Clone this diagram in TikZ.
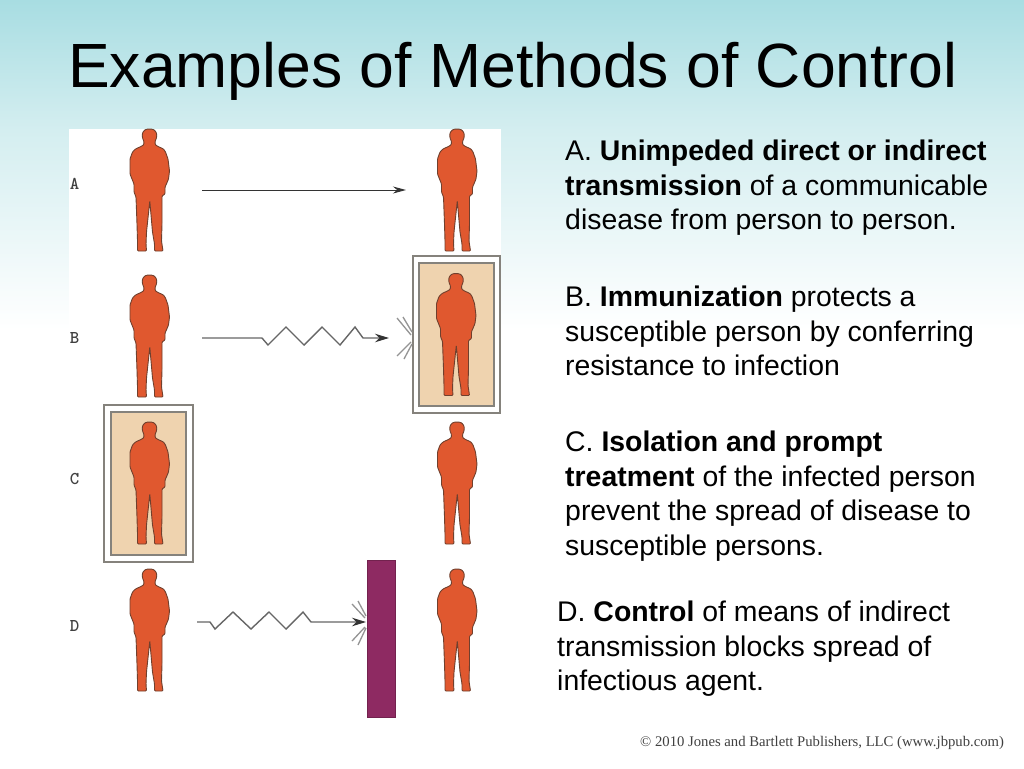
\documentclass[tikz,border=0pt]{standalone}
\usepackage{fontspec}
\setmainfont{Liberation Sans}
\newfontfamily\creditfont{Liberation Serif}
\usetikzlibrary{arrows.meta}
\definecolor{bgtop}{HTML}{A8DDE2}
\definecolor{bgmid}{HTML}{D4EEF0}
\definecolor{manfill}{HTML}{E0582F}
\definecolor{manline}{HTML}{70402E}
\definecolor{wheatfill}{HTML}{EFD3AF}
\definecolor{boxline}{HTML}{85827C}
\definecolor{wallfill}{HTML}{8E2A62}
\definecolor{zigline}{HTML}{666666}
\tikzset{
  man/.pic={
    \draw[fill=manfill,draw=manline,line width=0.9pt,rounded corners=0.9pt]
      (0,0) -- (3,0.2) -- (5.6,1.6) -- (7.3,5) -- (7,9) -- (5.5,12.5) -- (5.7,15.5) -- (7.5,17) -- (14,20) -- (16,23)
      -- (18.5,30) -- (20,42) -- (19,50) -- (16.5,56) -- (15.5,58) -- (15.5,65) -- (12.5,67)
      -- (12.5,95) -- (12,112) -- (13.5,122) -- (5,122) -- (5,115) -- (3,103) -- (0.3,72)
      -- (-3,103) -- (-3.5,115) -- (-3,122) -- (-12,122) -- (-12,112) -- (-12.5,95) -- (-13.5,68)
      -- (-15.5,63) -- (-15.5,55) -- (-19.5,45) -- (-19.5,30) -- (-17,23) -- (-14,20) -- (-7.5,17)
      -- (-5.7,15.5) -- (-5.5,12.5) -- (-7,9) -- (-7.3,5) -- (-5.6,1.6) -- (-3,0.2) -- cycle;
  },
  outerbox/.style={draw=boxline,fill=white,line width=1.3pt},
  innerbox/.style={draw=boxline,fill=wheatfill,line width=1.5pt},
  rowlabel/.style={font=\ttfamily\bfseries\fontsize{18}{20}\selectfont,text=black!75,inner sep=0pt},
  bodytext/.style={anchor=north west,align=left,inner sep=0pt,font=\fontsize{28.4}{34.5}\selectfont},
  thinarrow/.style={draw=black!80,line width=1pt,-{Stealth[length=13pt,width=7pt]}},
  zigarrow/.style={draw=zigline,line width=1.4pt,line join=miter,-{Stealth[length=14pt,width=8.5pt,color=black!80]}},
  burst/.style={draw=zigline!70,line width=1.3pt}
}
\begin{document}
\begin{tikzpicture}[x=1pt,y=-1pt]
\useasboundingbox (0,0) rectangle (1024,768);
% background
\fill[white] (0,0) rectangle (1024,768);
\shade[top color=bgtop,bottom color=bgmid] (0,0) rectangle (1024,130);
\shade[top color=bgmid,bottom color=white] (0,130) rectangle (1024,330);
\fill[white] (69,129) rectangle (501,330);
% title
\node[anchor=base west,inner sep=0pt,font=\fontsize{62.5}{64}\selectfont] (title) at (68,87) {Examples of Methods of Control};
% boxes
\node[outerbox,minimum width=87pt,minimum height=157pt,inner sep=0pt] (boxBout) at (456.5,334.5) {};
\node[innerbox,minimum width=75pt,minimum height=143pt,inner sep=0pt] (boxBin) at (456.5,334.5) {};
\node[outerbox,minimum width=89pt,minimum height=157pt,inner sep=0pt] (boxCout) at (148.5,483.5) {};
\node[innerbox,minimum width=75pt,minimum height=143pt,inner sep=0pt] (boxCin) at (148.5,483.5) {};
\node[fill=wallfill,draw=wallfill!80!black,line width=0.5pt,minimum width=28pt,minimum height=157pt,inner sep=0pt] (wall) at (381,638.5) {};
% people
\pic at (149.5,129) {man};
\pic at (457,129) {man};
\pic at (149.5,275) {man};
\pic at (456,273.5) {man};
\pic at (149.5,422) {man};
\pic at (457,422) {man};
\pic at (149.5,569) {man};
\pic at (457,569) {man};
% row labels
\node[rowlabel] (la) at (74.5,184) {A};
\node[rowlabel] (lb) at (74.5,338) {B};
\node[rowlabel] (lc) at (74.5,479) {C};
\node[rowlabel] (ld) at (74.5,626) {D};
% connector A
\coordinate (as) at (202,190);
\coordinate (ae) at (406,190);
\draw[thinarrow] (as) -- (ae);
% connector B
\coordinate (bs) at (202,338);
\coordinate (be) at (389,338);
\draw[zigarrow] (bs) -- (262,338) -- (268,345) -- (286,327) -- (304,345) -- (322,327) -- (340,345) -- (355,327) -- (363,338) -- (be);
\draw[burst] (397,318) -- (411,335) (403,317) -- (412,332) (397,356) -- (411,342) (404,359) -- (412,344);
% connector D
\coordinate (ds) at (197,622);
\coordinate (de) at (366,622);
\draw[zigarrow] (ds) -- (210,622) -- (215,629) -- (233,612) -- (251,629) -- (269,612) -- (286,629) -- (303,612) -- (311,622) -- (de);
\draw[burst] (352,604) -- (365,618) (358,601) -- (366,616) (352,641) -- (365,627) (358,645) -- (366,628);
% body text
\node[bodytext] (ta) at (565,140) {A. \textbf{Unimpeded direct or indirect}\\\textbf{transmission} of a communicable\\disease from person to person.};
\node[bodytext] (tb) at (565,286) {B. \textbf{Immunization} protects a\\susceptible person by conferring\\resistance to infection};
\node[bodytext] (tc) at (565,431) {C. \textbf{Isolation and prompt}\\\textbf{treatment} of the infected person\\prevent the spread of disease to\\susceptible persons.};
\node[bodytext] (td) at (557,601) {D. \textbf{Control} of means of indirect\\transmission blocks spread of\\infectious agent.};
% credit
\node[anchor=base west,inner sep=0pt,font=\creditfont\fontsize{14.7}{16}\selectfont,text=black!75] (credit) at (640,746) {© 2010 Jones and Bartlett Publishers, LLC (www.jbpub.com)};
\end{tikzpicture}
\end{document}
